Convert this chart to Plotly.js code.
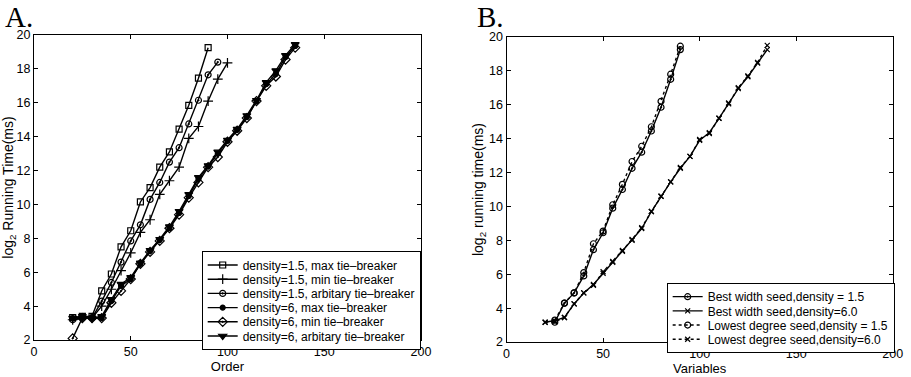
<!DOCTYPE html>
<html>
<head>
<meta charset="utf-8">
<script src="https://cdn.plot.ly/plotly-3.0.1.min.js"></script>
<style>html,body{margin:0;padding:0;background:#fff;}#chart{width:911px;height:377px;}</style>
</head>
<body>
<div id="chart"></div>
<script>
// Panel A: Order vs log2 running time
const orderA15max = [20,25,30,35,40,45,50,55,60,65,70,75,80,85,90];
const timeA15max  = [3.33,3.4,3.4,4.9,5.9,7.5,8.45,10.15,11.0,12.2,13.1,14.45,15.85,17.45,19.25];
const orderA15min = [20,25,30,35,40,45,50,55,60,65,70,75,80,85,90,95,100];
const timeA15min  = [3.2,3.3,3.3,4.0,5.0,6.1,7.15,8.35,9.1,10.6,11.4,12.2,13.9,14.6,16.1,17.4,18.35];
const orderA15arb = [20,25,30,35,40,45,50,55,60,65,70,75,80,85,90,95];
const timeA15arb  = [3.2,3.3,3.3,4.3,5.4,6.6,7.85,8.8,10.3,11.3,12.5,13.35,14.75,16.15,17.65,18.4];
const orderA6 = [20,25,30,35,40,45,50,55,60,65,70,75,80,85,90,95,100,105,110,115,120,125,130,135];
const timeA6max = [3.3,3.35,3.3,3.3,4.3,5.2,5.6,6.5,7.25,7.9,8.6,9.5,10.5,11.5,12.25,13.0,13.75,14.4,15.15,16.1,17.1,17.7,18.7,19.35];
const timeA6min = [2.1,3.3,3.3,3.3,4.2,4.9,5.6,6.5,7.2,7.85,8.6,9.4,10.4,11.3,12.2,12.8,13.7,14.35,15.1,16.1,17.0,17.55,18.55,19.25];
const timeA6arb = [3.3,3.4,3.3,3.4,4.4,5.3,5.7,6.55,7.3,7.95,8.7,9.6,10.6,11.6,12.3,13.1,13.8,14.45,15.25,16.15,17.2,17.9,18.8,19.45];
const namesA = ["density=1.5, max tie\u2013breaker","density=1.5, min tie\u2013breaker","density=1.5, arbitary tie\u2013breaker","density=6, max tie\u2013breaker","density=6, min tie\u2013breaker","density=6, arbitary tie\u2013breaker"];

// Panel B: Variables vs log2 running time
const varsB15 = [25,30,35,40,45,50,55,60,65,70,75,80,85,90];
const timeB15best   = [3.17,4.3,4.9,5.9,7.45,8.45,9.9,11.0,12.25,13.2,14.45,15.85,17.5,19.25];
const timeB15lowest = [3.3,4.3,4.9,6.1,7.8,8.55,10.1,11.3,12.65,13.55,14.7,16.2,17.8,19.45];
const varsB6 = [20,25,30,35,40,45,50,55,60,65,70,75,80,85,90,95,100,105,110,115,120,125,130,135];
const timeB6best   = [3.17,3.27,3.45,4.25,4.9,5.4,6.05,6.7,7.35,8.0,8.7,9.7,10.6,11.45,12.25,12.95,13.9,14.35,15.2,16.1,16.95,17.65,18.45,19.25];
const timeB6lowest = [3.17,3.2,3.45,4.25,4.9,5.35,6.15,6.75,7.4,8.05,8.75,9.7,10.6,11.45,12.3,12.95,13.95,14.3,15.2,16.05,17.0,17.7,18.5,19.5];
const namesB = ["Best width seed,density = 1.5","Best width seed,density=6.0","Lowest degree seed,density = 1.5","Lowest degree seed,density=6.0"];

const FONT = "Liberation Sans, Arial, Helvetica, sans-serif";
function tr(x, y, name, sym, sz, dash, xa, ya, leg) {
  return {x: x, y: y, name: name, type: "scatter", mode: "lines+markers",
    xaxis: xa, yaxis: ya, legend: leg,
    line: {color: "#000", width: 1.4, dash: dash},
    marker: {symbol: sym, size: sz, color: "#000", line: {color: "#000", width: 1.2}}};
}
const data = [
  tr(orderA15max, timeA15max, namesA[0], "square-open", 6, "solid", "x", "y", "legend"),
  tr(orderA15min, timeA15min, namesA[1], "cross-thin-open", 7, "solid", "x", "y", "legend"),
  tr(orderA15arb, timeA15arb, namesA[2], "circle-open-dot", 6, "solid", "x", "y", "legend"),
  tr(orderA6, timeA6max, namesA[3], "circle", 5, "solid", "x", "y", "legend"),
  tr(orderA6, timeA6min, namesA[4], "diamond-open-dot", 7, "solid", "x", "y", "legend"),
  tr(orderA6, timeA6arb, namesA[5], "triangle-down", 7, "solid", "x", "y", "legend"),
  tr(varsB15, timeB15best, namesB[0], "circle-open-dot", 6, "solid", "x2", "y2", "legend2"),
  tr(varsB6, timeB6best, namesB[1], "x-thin-open", 5, "solid", "x2", "y2", "legend2"),
  tr(varsB15, timeB15lowest, namesB[2], "circle-open", 6, "dot", "x2", "y2", "legend2"),
  tr(varsB6, timeB6lowest, namesB[3], "x-thin-open", 5, "dot", "x2", "y2", "legend2")
];
function xax(dom, title) {
  return {domain: dom, range: [0,200], dtick: 50, ticks: "inside", ticklen: 4, tickcolor: "#000",
    showline: true, linecolor: "#000", linewidth: 1, mirror: "ticks", showgrid: false, zeroline: false,
    tickfont: {family: FONT, size: 12.5, color: "#000"},
    title: {text: title, font: {family: FONT, size: 13, color: "#000"}, standoff: 1}};
}
function yax(dom, anchor, title) {
  return {domain: dom, anchor: anchor, range: [2,20], dtick: 2, ticks: "inside", ticklen: 4, tickcolor: "#000",
    showline: true, linecolor: "#000", linewidth: 1, mirror: "ticks", showgrid: false, zeroline: false,
    tickfont: {family: FONT, size: 12.5, color: "#000"},
    title: {text: title, font: {family: FONT, size: 14, color: "#000"}, standoff: 2}};
}
const legFont = {family: FONT, size: 12, color: "#000"};
const layout = {
  width: 911, height: 377, margin: {l: 0, r: 0, t: 0, b: 0},
  paper_bgcolor: "#fff", plot_bgcolor: "#fff",
  xaxis: Object.assign(xax([0.0373, 0.4621], "Order"), {anchor: "y"}),
  yaxis: yax([0.0955, 0.907], "x", "log<sub>2</sub> Running Time(ms)"),
  xaxis2: Object.assign(xax([0.556, 0.980], "Variables"), {anchor: "y2"}),
  yaxis2: yax([0.0902, 0.9019], "x2", "log<sub>2</sub> running time(ms)"),
  legend: {x: 0.2214, y: 0.3324, xanchor: "left", yanchor: "top", bgcolor: "#fff",
    bordercolor: "#000", borderwidth: 1, font: legFont, tracegroupgap: 0},
  legend2: {x: 0.7318, y: 0.2502, xanchor: "left", yanchor: "top", bgcolor: "#fff",
    bordercolor: "#000", borderwidth: 1, font: legFont, tracegroupgap: 0},
  annotations: [
    {text: "A.", xref: "paper", yref: "paper", x: 0.004, y: 1.0, xanchor: "left", yanchor: "top", showarrow: false, borderpad: 0,
     font: {family: "Liberation Serif, Times New Roman, serif", size: 29, color: "#000"}},
    {text: "B.", xref: "paper", yref: "paper", x: 0.522, y: 1.0, xanchor: "left", yanchor: "top", showarrow: false, borderpad: 0,
     font: {family: "Liberation Serif, Times New Roman, serif", size: 29, color: "#000"}}
  ]
};
const gd = document.getElementById("chart");
Plotly.newPlot(gd, data, layout, {staticPlot: true, displayModeBar: false}).then(function () {
  // tighten legend row spacing to match the reference
  const target = 14.2;
  ["legend", "legend2"].forEach(function (id) {
    const g = gd.querySelector("g." + id);
    if (!g) return;
    const items = Array.prototype.slice.call(g.querySelectorAll("g.traces"));
    if (items.length < 2) return;
    const pos = items.map(function (it) {
      const m = /translate\(\s*([-\d.e]+)[ ,]+([-\d.e]+)\s*\)/.exec(it.getAttribute("transform") || "");
      return m ? [parseFloat(m[1]), parseFloat(m[2])] : null;
    });
    if (pos.some(function (p) { return !p; })) return;
    const step = (pos[pos.length - 1][1] - pos[0][1]) / (pos.length - 1);
    const delta = step - target;
    if (delta <= 0) return;
    items.forEach(function (it, i) {
      it.setAttribute("transform", "translate(" + pos[i][0] + "," + (pos[0][1] + i * target - 1.5) + ")");
    });
    const shrink = delta * (items.length - 1) + 3;
    const bg = g.querySelector("rect.bg");
    if (bg) {
      const h = parseFloat(bg.getAttribute("height"));
      bg.setAttribute("height", h - shrink);
    }
  });
});
</script>
</body>
</html>
